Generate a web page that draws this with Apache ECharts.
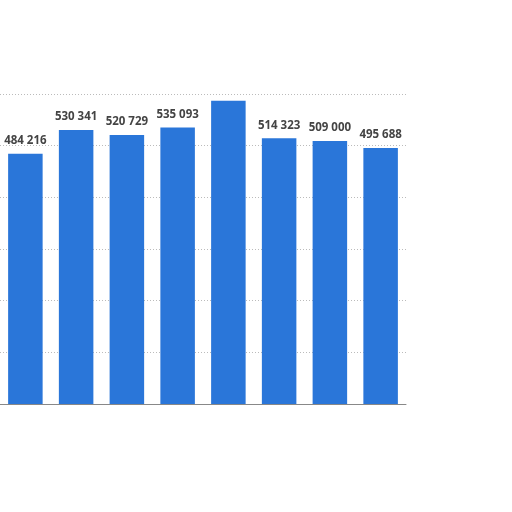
<!DOCTYPE html>
<html><head><meta charset="utf-8">
<script src="https://cdn.jsdelivr.net/npm/echarts@6/dist/echarts.min.js"></script>
<style>html,body{margin:0;padding:0;background:#fff}#c{width:512px;height:512px}</style>
</head><body><div id="c"></div>
<script>
var categories = ['1','2','3','4','5','6','7','8'];
var values = [484216, 530341, 520729, 535093, 587000, 514323, 509000, 495688];
var hiddenLabels = [4];
function fmt(v){return String(v).replace(/\B(?=(\d{3})+(?!\d))/g,' ');}
var chart = echarts.init(document.getElementById('c'));
chart.setOption({
  animation:false,
  grid:{left:0,right:106,top:94,bottom:108,containLabel:false},
  xAxis:{type:'category',data:categories,axisLabel:{show:false},axisTick:{show:false},
    axisLine:{show:true,lineStyle:{color:'#888',width:1}}},
  yAxis:{type:'value',min:0,max:600000,interval:100000,axisLabel:{show:false},
    axisLine:{show:false},axisTick:{show:false},
    splitLine:{show:true,lineStyle:{color:'#bbb',type:[1,2],width:1}}},
  series:[{type:'bar',barCategoryGap:'32%',
    data:values.map(function(v,i){return {value:v,label:{show:hiddenLabels.indexOf(i)<0}};}),
    itemStyle:{color:'#2a76d9'},
    label:{show:true,position:'top',distance:7,color:'#444',fontWeight:'bold',fontSize:11.5,
      fontFamily:'Open Sans, sans-serif',formatter:function(p){return fmt(p.value);}}
  }]
});
</script></body></html>
